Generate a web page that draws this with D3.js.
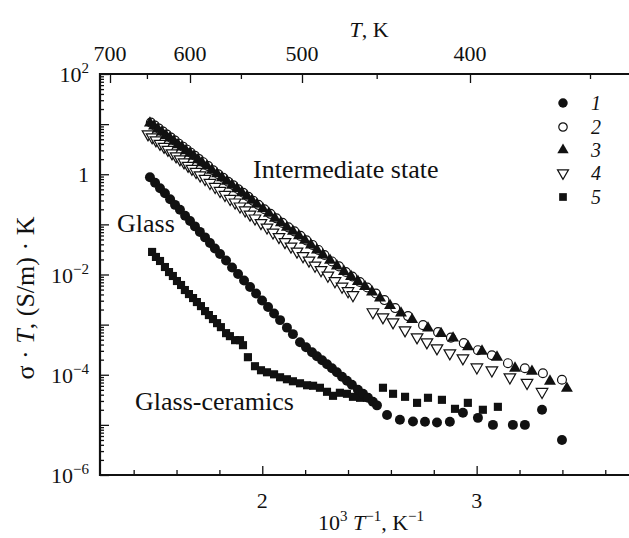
<!DOCTYPE html>
<html lang="en">
<head>
<meta charset="UTF-8">
<title>sigma T vs 1000/T</title>
<script src="https://cdn.jsdelivr.net/npm/d3@7"></script>
<style>
  body { margin: 0; background: #fff; }
  svg { display: block; }
  text { font-family: "Liberation Serif", "Times New Roman", serif; fill: #111; }
</style>
</head>
<body>
<svg id="chart" width="629" height="538"></svg>
<script>
// ---- data (x = 10^3/T, K^-1 ; y = sigma*T, (S/m)K) ----
// 1 - glass
const s1X = [1.476,1.500,1.523,1.546,1.570,1.593,1.616,1.640,1.663,1.686,1.709,1.733,1.756,1.779,1.803,1.831,1.859,1.887,1.915,1.943,1.971,1.999,2.027,2.055,2.083,2.115,2.143,2.176,2.204,2.232,2.255,2.279,2.302,2.325,2.348,2.372,2.395,2.418,2.446,2.470,2.493,2.516,2.535,2.582,2.642,2.703,2.759,2.815,2.875,2.936,3.006,3.076,3.169,3.225,3.305,3.398];
const s1Y = [0.871,0.676,0.525,0.417,0.316,0.245,0.195,0.148,0.117,0.0912,0.0708,0.0550,0.0427,0.0331,0.0257,0.0191,0.0138,0.0102,0.00759,0.00562,0.00417,0.00302,0.00224,0.00166,0.00123,8.71e-4,6.46e-4,4.47e-4,3.55e-4,2.82e-4,2.34e-4,1.95e-4,1.62e-4,1.35e-4,1.12e-4,9.12e-5,7.59e-5,6.31e-5,5.01e-5,4.17e-5,3.47e-5,2.88e-5,2.45e-5,1.58e-5,1.26e-5,1.17e-5,1.15e-5,1.12e-5,1.15e-5,1.74e-5,1.38e-5,1.0e-5,1.0e-5,1.0e-5,2.0e-5,5.0e-6];
// 2
const s2X = [1.480,1.499,1.518,1.537,1.555,1.574,1.593,1.611,1.630,1.649,1.667,1.686,1.705,1.724,1.748,1.771,1.795,1.818,1.841,1.865,1.888,1.911,1.935,1.958,1.982,2.010,2.038,2.066,2.094,2.122,2.150,2.178,2.206,2.234,2.262,2.290,2.325,2.358,2.390,2.420,2.455,2.490,2.530,2.570,2.620,2.680,2.750,2.820,2.880,2.940,3.006,3.071,3.146,3.225,3.309,3.398];
const s2Y = [10.7,9.33,8.13,7.08,6.17,5.37,4.68,4.07,3.55,3.09,2.69,2.34,2.00,1.74,1.45,1.20,1.00,0.851,0.708,0.603,0.501,0.427,0.355,0.295,0.245,0.200,0.162,0.132,0.107,0.0871,0.0724,0.0589,0.0479,0.0389,0.0309,0.0245,0.0182,0.0145,0.0112,0.00912,0.00708,0.00550,0.00417,0.00309,0.00214,0.00148,9.77e-4,7.08e-4,5.50e-4,4.27e-4,3.09e-4,2.45e-4,1.70e-4,1.35e-4,1.07e-4,7.94e-5];
// 3
const s3X = [1.476,1.495,1.513,1.532,1.551,1.569,1.588,1.607,1.625,1.644,1.663,1.681,1.700,1.719,1.742,1.765,1.789,1.812,1.835,1.859,1.882,1.905,1.929,1.952,1.975,2.003,2.031,2.059,2.087,2.115,2.143,2.171,2.199,2.227,2.255,2.283,2.316,2.348,2.381,2.414,2.446,2.479,2.512,2.549,2.596,2.647,2.699,2.773,2.834,2.890,2.960,3.025,3.095,3.179,3.258,3.342,3.421];
const s3Y = [10.5,9.12,7.94,6.92,5.89,5.25,4.57,3.89,3.47,2.95,2.63,2.29,1.95,1.70,1.45,1.20,1.02,0.851,0.724,0.603,0.513,0.427,0.363,0.302,0.251,0.204,0.166,0.132,0.107,0.0871,0.0724,0.0589,0.0479,0.0389,0.0309,0.0245,0.0191,0.0148,0.0115,0.00912,0.00724,0.00575,0.00447,0.00339,0.00240,0.00170,0.00126,8.51e-4,6.61e-4,5.37e-4,3.63e-4,2.95e-4,2.24e-4,1.35e-4,1.17e-4,7.41e-5,5.37e-5];
// 4
const s4X = [1.467,1.486,1.504,1.523,1.542,1.560,1.579,1.598,1.616,1.635,1.654,1.672,1.691,1.710,1.733,1.756,1.780,1.803,1.826,1.850,1.873,1.896,1.920,1.943,1.966,1.994,2.022,2.050,2.078,2.106,2.134,2.162,2.190,2.218,2.246,2.274,2.306,2.339,2.372,2.400,2.423,2.516,2.563,2.610,2.666,2.722,2.768,2.815,2.875,2.936,3.001,3.071,3.155,3.235,3.305];
const s4Y = [6.31,5.50,4.79,4.07,3.55,3.09,2.63,2.29,2.00,1.74,1.48,1.29,1.12,0.955,0.813,0.676,0.562,0.468,0.389,0.324,0.275,0.229,0.191,0.158,0.132,0.107,0.0871,0.0692,0.0562,0.0447,0.0363,0.0288,0.0234,0.0191,0.0151,0.0123,0.00955,0.00741,0.00575,0.00468,0.00389,0.00178,0.00141,0.00112,7.76e-4,5.62e-4,4.47e-4,3.39e-4,2.69e-4,2.14e-4,1.41e-4,1.23e-4,8.91e-5,6.92e-5,4.57e-5];
// 5 - glass-ceramics
const s5X = [1.486,1.504,1.523,1.546,1.565,1.583,1.602,1.621,1.639,1.658,1.677,1.695,1.714,1.733,1.751,1.770,1.789,1.807,1.831,1.849,1.873,1.896,1.910,1.933,1.966,1.994,2.022,2.055,2.083,2.115,2.143,2.176,2.209,2.237,2.269,2.302,2.330,2.362,2.395,2.423,2.456,2.488,2.563,2.610,2.666,2.722,2.773,2.838,2.899,2.959,3.029,3.099];
const s5Y = [0.0282,0.0224,0.0186,0.0141,0.0112,0.00933,0.00741,0.00617,0.00490,0.00407,0.00339,0.00282,0.00234,0.00186,0.00155,0.00129,0.00107,8.91e-4,6.76e-4,5.89e-4,4.90e-4,4.90e-4,3.89e-4,2.24e-4,1.48e-4,1.23e-4,1.12e-4,1.02e-4,8.91e-5,8.13e-5,7.41e-5,6.76e-5,6.17e-5,6.03e-5,5.50e-5,4.57e-5,3.80e-5,4.37e-5,4.17e-5,3.63e-5,3.47e-5,3.47e-5,5.50e-5,4.17e-5,3.63e-5,2.75e-5,3.47e-5,3.16e-5,2.09e-5,2.75e-5,2.00e-5,2.29e-5];

const legendLabels = ["1", "2", "3", "4", "5"];
const xTicks = [1.4, 1.6, 1.8, 2, 2.2, 2.4, 2.6, 2.8, 3, 3.2, 3.4, 3.6];
const xLabels = [2, 3];
const topT = [700, 650, 600, 550, 500, 450, 400, 350];
const topLabels = [700, 600, 500, 400];
const yLabelExp = [2, 0, -2, -4, -6];

// ---- layout ----
const svg = d3.select("#chart");
const mLeft = 100, mTop = 74, mBottom = 475, mRight = 640;

const x = d3.scaleLinear().domain([1.243, 3.762]).range([mLeft, mRight]);
const y = d3.scaleLog().domain([1e-6, 1e2]).range([mBottom, mTop]);
// the top T scale of the original figure is not aligned with the bottom one
const xTop = d3.scaleLinear().domain([2, 2.5]).range([302, 470]);

// axes (ticks inward)
const minorX = xTicks.filter(d => !xLabels.includes(d));
svg.append("g").attr("transform", `translate(0,${mBottom})`)
  .call(d3.axisBottom(x).tickValues(minorX).tickSize(-5).tickSizeOuter(0).tickFormat(""));
svg.append("g").attr("transform", `translate(0,${mBottom})`)
  .call(d3.axisBottom(x).tickValues(xLabels).tickSize(-9).tickSizeOuter(0).tickFormat(""));

const yMajor = d3.range(-6, 3).map(e => Math.pow(10, e));
const yMinor = y.ticks().filter(d => !yMajor.some(m => Math.abs(d / m - 1) < 1e-6));
svg.append("g").attr("transform", `translate(${mLeft},0)`)
  .call(d3.axisLeft(y).tickValues(yMinor).tickSize(-4).tickSizeOuter(0).tickFormat(""));
svg.append("g").attr("transform", `translate(${mLeft},0)`)
  .call(d3.axisLeft(y).tickValues(yMajor).tickSize(-9).tickSizeOuter(0).tickFormat(""));

const topMinor = topT.filter(t => !topLabels.includes(t)).map(t => 1000 / t);
const topMajor = topLabels.map(t => 1000 / t);
svg.append("g").attr("transform", `translate(0,${mTop})`)
  .call(d3.axisTop(xTop).tickValues(topMinor).tickSize(-5).tickSizeOuter(0).tickFormat(""));
svg.append("g").attr("transform", `translate(0,${mTop})`)
  .call(d3.axisTop(xTop).tickValues(topMajor).tickSize(-9).tickSizeOuter(0).tickFormat(""));

svg.selectAll(".domain").remove();
svg.selectAll(".tick line").attr("stroke", "#111").attr("stroke-width", 1.3);
svg.selectAll(".tick text").remove();

// frame
svg.append("path")
  .attr("d", `M${mRight},${mTop}H${mLeft}V${mBottom}H${mRight}`)
  .attr("fill", "none").attr("stroke", "#111").attr("stroke-width", 2.2);

// tick labels
svg.selectAll(".xl").data(xLabels).join("text")
  .attr("x", d => x(d)).attr("y", mBottom + 33)
  .attr("text-anchor", "middle").attr("font-size", 22).text(d => d);

svg.selectAll(".tl").data(topLabels).join("text")
  .attr("x", d => xTop(1000 / d)).attr("y", mTop - 13)
  .attr("text-anchor", "middle").attr("font-size", 22).text(d => d);

yLabelExp.forEach(e => {
  const t = svg.append("text").attr("x", 89).attr("y", y(Math.pow(10, e)) + 8)
    .attr("text-anchor", "end").attr("font-size", 22);
  if (e === 0) { t.text("1"); return; }
  t.append("tspan").text("10");
  t.append("tspan").attr("dy", -9).attr("font-size", 15).text(e < 0 ? "\u2212" + (-e) : e);
});

// axis titles
const xt = svg.append("text").attr("x", 371).attr("y", 530)
  .attr("text-anchor", "middle").attr("font-size", 22);
xt.append("tspan").text("10");
xt.append("tspan").attr("dy", -9).attr("font-size", 15).text("3");
xt.append("tspan").attr("dy", 9).text(" ");
xt.append("tspan").attr("font-style", "italic").text("T");
xt.append("tspan").attr("dy", -9).attr("font-size", 15).text("\u22121");
xt.append("tspan").attr("dy", 9).text(", K");
xt.append("tspan").attr("dy", -9).attr("font-size", 15).text("\u22121");

const tt = svg.append("text").attr("x", 369).attr("y", 37)
  .attr("text-anchor", "middle").attr("font-size", 22);
tt.append("tspan").attr("font-style", "italic").text("T");
tt.append("tspan").text(", K");

const yt = svg.append("text")
  .attr("transform", "translate(34,298) rotate(-90)")
  .attr("text-anchor", "middle").attr("font-size", 26);
yt.append("tspan").text("\u03c3 \u00b7 ");
yt.append("tspan").attr("font-style", "italic").text("T");
yt.append("tspan").text(", (S/m) \u00b7 K");

// annotations
svg.append("text").attr("x", 253).attr("y", 178).attr("font-size", 26).text("Intermediate state");
svg.append("text").attr("x", 117).attr("y", 232).attr("font-size", 26).text("Glass");
svg.append("text").attr("x", 135).attr("y", 410).attr("font-size", 26).text("Glass-ceramics");

// ---- markers ----
const styles = [
  { type: d3.symbolCircle, size: 78, fill: "#111", stroke: "none", rot: 0 },
  { type: d3.symbolCircle, size: 62, fill: "#fff", stroke: "#111", rot: 0 },
  { type: d3.symbolTriangle, size: 62, fill: "#111", stroke: "none", rot: 0 },
  { type: d3.symbolTriangle, size: 58, fill: "#fff", stroke: "#111", rot: 180 },
  { type: d3.symbolSquare, size: 66, fill: "#111", stroke: "none", rot: 0 }
];
const series = [
  { xs: s1X, ys: s1Y, st: styles[0] },
  { xs: s2X, ys: s2Y, st: styles[1] },
  { xs: s3X, ys: s3Y, st: styles[2] },
  { xs: s4X, ys: s4Y, st: styles[3] },
  { xs: s5X, ys: s5Y, st: styles[4] }
];

function drawSeries(s) {
  const pts = s.xs.map((v, i) => [v, s.ys[i]]);
  svg.append("g").selectAll("path").data(pts).join("path")
    .attr("d", d3.symbol().type(s.st.type).size(s.st.size))
    .attr("transform", d => `translate(${x(d[0])},${y(d[1])}) rotate(${s.st.rot})`)
    .attr("fill", s.st.fill)
    .attr("stroke", s.st.stroke)
    .attr("stroke-width", 1.2);
}
// drawing order: open markers below the filled ones
[3, 1, 2, 4, 0].forEach(i => drawSeries(series[i]));

// legend
const legY = [103, 127, 150, 173, 197];
legendLabels.forEach((lab, i) => {
  const st = styles[i];
  svg.append("path")
    .attr("d", d3.symbol().type(st.type).size(st.size * 0.9))
    .attr("transform", `translate(563,${legY[i]}) rotate(${st.rot})`)
    .attr("fill", st.fill).attr("stroke", st.stroke).attr("stroke-width", 1.2);
  svg.append("text").attr("x", 591).attr("y", legY[i] + 7)
    .attr("font-size", 20).attr("font-style", "italic").text(lab);
});
</script>
</body>
</html>
